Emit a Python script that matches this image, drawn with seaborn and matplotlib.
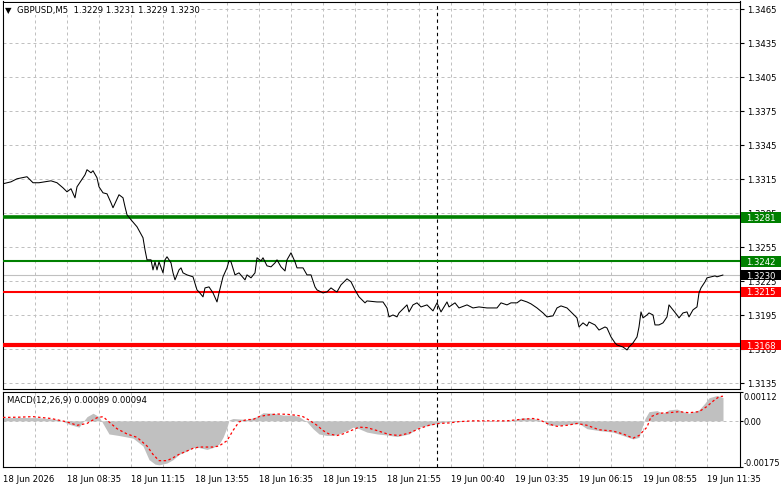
import matplotlib
matplotlib.use("Agg")
import matplotlib.pyplot as plt
import matplotlib.transforms as mtransforms
from matplotlib.patches import Rectangle
import seaborn as sns

# GBPUSD M5 closes, bar index counted from the left edge
price_idx = [0, 4, 7, 12, 15, 18, 24, 27, 30, 32, 34, 36, 37, 40, 41, 42, 44, 45, 47, 48,
             50, 52, 54, 55, 58, 60, 61, 62, 64, 67, 70, 71, 72, 74, 75, 76, 77, 78, 80, 81,
             82, 84, 85, 86, 88, 89, 90, 92, 95, 97, 98, 100, 101, 103, 105, 107, 108, 110, 112, 113,
             114, 116, 118, 121, 122, 124, 126, 127, 129, 130, 132, 134, 136, 137, 139, 141, 142, 144, 146, 147,
             150, 152, 154, 156, 157, 160, 162, 164, 166, 167, 169, 172, 174, 176, 178, 181, 182, 187, 190, 192,
             193, 195, 197, 198, 202, 203, 205, 207, 209, 212, 215, 217, 219, 222, 223, 226, 228, 232, 235, 238,
             242, 245, 247, 249, 252, 254, 257, 259, 262, 264, 267, 270, 272, 275, 277, 279, 282, 284, 287, 288,
             290, 292, 293, 296, 298, 301, 302, 304, 306, 307, 310, 312, 313, 315, 317, 318, 319, 320, 322, 323,
             325, 326, 328, 330, 332, 333, 335, 337, 338, 340, 342, 343, 345, 347, 348, 349, 351, 352, 354, 356,
             357, 360]
price_close = [1.33106, 1.33123, 1.33150, 1.33168, 1.33115, 1.33115, 1.33132, 1.33115, 1.33070, 1.33035,
               1.33062, 1.32982, 1.33079, 1.33159, 1.33185, 1.33230, 1.33203, 1.33221, 1.33159, 1.33079,
               1.33026, 1.33017, 1.32938, 1.32894, 1.33009, 1.32982, 1.32903, 1.32832, 1.32788, 1.32726,
               1.32629, 1.32522, 1.32434, 1.32434, 1.32345, 1.32416, 1.32345, 1.32416, 1.32319, 1.32434,
               1.32461, 1.32407, 1.32319, 1.32257, 1.32345, 1.32363, 1.32319, 1.32301, 1.32284, 1.32168,
               1.32151, 1.32107, 1.32186, 1.32195, 1.32142, 1.32062, 1.32142, 1.32284, 1.32363, 1.32425,
               1.32416, 1.32301, 1.32319, 1.32257, 1.32301, 1.32275, 1.32319, 1.32452, 1.32425, 1.32452,
               1.32381, 1.32372, 1.32407, 1.32434, 1.32372, 1.32336, 1.32434, 1.32496, 1.32416, 1.32363,
               1.32363, 1.32301, 1.32301, 1.32195, 1.32168, 1.32142, 1.32151, 1.32186, 1.32160, 1.32151,
               1.32213, 1.32266, 1.32240, 1.32168, 1.32107, 1.32054, 1.32071, 1.32062, 1.32062, 1.32009,
               1.31930, 1.31947, 1.31930, 1.31965, 1.32036, 1.31974, 1.32036, 1.32054, 1.32018, 1.32036,
               1.31983, 1.32054, 1.31974, 1.32062, 1.32018, 1.32054, 1.32009, 1.32036, 1.32009, 1.32018,
               1.32009, 1.32009, 1.32009, 1.32054, 1.32036, 1.32054, 1.32054, 1.32080, 1.32062, 1.32045,
               1.32009, 1.31965, 1.31930, 1.31939, 1.32009, 1.32027, 1.32009, 1.31974, 1.31921, 1.31841,
               1.31877, 1.31850, 1.31885, 1.31859, 1.31814, 1.31841, 1.31832, 1.31753, 1.31700, 1.31682,
               1.31664, 1.31638, 1.31664, 1.31700, 1.31753, 1.31841, 1.31974, 1.31921, 1.31947, 1.31965,
               1.31947, 1.31859, 1.31859, 1.31877, 1.31930, 1.32036, 1.31992, 1.31947, 1.31921, 1.31965,
               1.31974, 1.31930, 1.31992, 1.32018, 1.32142, 1.32186, 1.32240, 1.32275, 1.32284, 1.32292,
               1.32284, 1.32300]

# MACD(12,26,9): main line drawn as histogram, signal as dotted line
hist_idx = [0, 8, 18, 28, 33, 38, 42, 45, 48, 53, 58, 65, 70, 73, 76, 78, 82, 85, 88, 92,
            95, 98, 102, 105, 108, 110, 112, 113, 115, 122, 127, 130, 135, 140, 145, 148, 152, 155, 158, 162,
            165, 168, 172, 175, 178, 182, 187, 192, 197, 203, 208, 213, 218, 223, 230, 238, 247, 255, 260, 265,
            270, 273, 278, 283, 288, 292, 298, 305, 310, 315, 318, 319, 321, 323, 327, 330, 333, 337, 340, 343,
            348, 351, 353, 357, 360]
macd_main = [0.00012, 0.00013, 0.00012, 0.00005, -0.00013, -0.00024, 0.00016, 0.00029, 0.00016, -0.00050,
             -0.00056, -0.00066, -0.00096, -0.00148, -0.00165, -0.00168, -0.00161, -0.00148, -0.00128, -0.00115,
             -0.00102, -0.00102, -0.00109, -0.00102, -0.00089, -0.00063, -0.00024, 0.00003, 0.00009, 0.00005,
             0.00016, 0.00031, 0.00029, 0.00022, 0.00022, 0.00016, -0.00004, -0.00030, -0.00050, -0.00056,
             -0.00056, -0.00050, -0.00037, -0.00024, -0.00030, -0.00043, -0.00050, -0.00054, -0.00060, -0.00050,
             -0.00024, -0.00017, -0.00008, -0.00003, 0.0, 0.0, 0.0, 0.00003, 0.00012, 0.00009,
             0.0, -0.00017, -0.00017, -0.00013, -0.00010, -0.00030, -0.00037, -0.00043, -0.00056, -0.00069,
             -0.00063, -0.00037, 0.00009, 0.00035, 0.00039, 0.00029, 0.00042, 0.00045, 0.00035, 0.00029,
             0.00042, 0.00068, 0.00088, 0.00097, 0.00089]
sig_idx = [0, 8, 15, 24, 32, 37, 42, 47, 50, 53, 57, 62, 67, 72, 75, 78, 82, 85, 88, 92,
           95, 98, 105, 108, 112, 115, 118, 122, 125, 128, 132, 137, 142, 147, 150, 153, 157, 160, 163, 167,
           170, 175, 178, 182, 187, 193, 198, 203, 208, 213, 218, 223, 228, 235, 243, 252, 258, 265, 268, 272,
           277, 282, 287, 292, 298, 305, 310, 315, 318, 322, 324, 328, 333, 338, 343, 348, 352, 355, 358, 360]
macd_signal = [0.00013, 0.00014, 0.00016, 0.00009, -0.00004, -0.00017, -0.00010, 0.00012, 0.00016, -0.00004,
               -0.00030, -0.00050, -0.00063, -0.00096, -0.00128, -0.00152, -0.00152, -0.00141, -0.00128, -0.00115,
               -0.00105, -0.00100, -0.00100, -0.00096, -0.00076, -0.00037, -0.00004, 0.00005, 0.00005, 0.00016,
               0.00022, 0.00026, 0.00025, 0.00021, 0.00016, 0.00003, -0.00017, -0.00037, -0.00050, -0.00056,
               -0.00050, -0.00034, -0.00024, -0.00026, -0.00037, -0.00052, -0.00056, -0.00047, -0.00030, -0.00017,
               -0.00010, -0.00008, -0.00003, 0.0, 0.0, 0.0, 0.00005, 0.00009, 0.00005, -0.00010,
               -0.00021, -0.00017, -0.00010, -0.00017, -0.00034, -0.00039, -0.00050, -0.00066, -0.00056, -0.00024,
               0.00016, 0.00029, 0.00031, 0.00035, 0.00031, 0.00035, 0.00055, 0.00075, 0.00092, 0.00094]

levels = [1.3281, 1.3242, 1.3215, 1.3168]
level_colors = ["#008000", "#008000", "#ff0000", "#ff0000"]
level_widths = [2.6, 1.5, 1.5, 3.0]
bid = 1.3230

price_ticks = [1.3135, 1.3165, 1.3195, 1.3225, 1.3255, 1.3285, 1.3315, 1.3345, 1.3375, 1.3405, 1.3435, 1.3465]
macd_ticks = [-0.00175, 0.0, 0.00112]
macd_tick_labels = ["-0.00175", "0.00", "0.00112"]
time_pos = [0, 32, 64, 96, 128, 160, 192, 224, 256, 288, 320, 352]
time_labels = ["18 Jun 2026", "18 Jun 08:35", "18 Jun 11:15", "18 Jun 13:55", "18 Jun 16:35",
               "18 Jun 19:15", "18 Jun 21:55", "19 Jun 00:40", "19 Jun 03:35", "19 Jun 06:15",
               "19 Jun 08:55", "19 Jun 11:35"]
day_sep = 217

sns.set_theme(style="white")
plt.rcParams["font.family"] = ["DejaVu Sans"]
FS = 6.1
GRID = dict(color="#c0c0c0", linestyle=(0, (3, 3)), linewidth=0.72)

W, H = 781, 489
fig = plt.figure(figsize=(W / 100, H / 100), dpi=100)
fig.patch.set_facecolor("white")


def box(l, t, r, b):
    return [l / W, 1 - b / H, (r - l) / W, (b - t) / H]


ax = fig.add_axes(box(3, 2.5, 740, 390))
ax2 = fig.add_axes(box(3, 392.5, 740, 467.7))
xlim = (0, 368.5)
vgrid = list(range(16, 353, 16))

# ---- price panel
ax.set_xlim(*xlim)
ax.set_ylim(1.31293, 1.34716)
ax.set_xticks(vgrid)
ax.tick_params(axis="x", length=0, labelbottom=False)
ax.yaxis.tick_right()
ax.set_yticks(price_ticks)
ax.set_yticklabels([f"{t:.4f}" for t in price_ticks])
ax.tick_params(axis="y", length=3, width=0.8, pad=2, labelsize=FS, colors="black")
ax.grid(True, **GRID)

ax.axhline(bid, color="#c0c0c0", lw=0.8, zorder=2)
for lev, c, w in zip(levels, level_colors, level_widths):
    ax.axhline(lev, color=c, lw=w, zorder=3)
ax.axvline(day_sep, color="black", lw=0.8, linestyle=(0, (3, 3)), zorder=2)
sns.lineplot(x=price_idx, y=price_close, ax=ax, color="black", linewidth=0.75, sort=False, zorder=4)

# price tags on the scale (they sit on top of the plain tick labels, as in the terminal)
trans = mtransforms.blended_transform_factory(ax.transAxes, ax.transData)
ylo, yhi = ax.get_ylim()
tag_h = 10.5 * (yhi - ylo) / 387.5
tag_w = 40 / 737
tags = list(zip(levels, level_colors)) + [(bid, "#000000")]
for lev, c in tags:
    ax.add_patch(Rectangle((1.0015, lev - tag_h / 2), tag_w, tag_h, transform=trans,
                           facecolor=c, edgecolor="none", clip_on=False, zorder=6))
    ax.text(1.0 + 6 / 737, lev, f"{lev:.4f}", transform=trans, color="white", fontsize=FS,
            va="center", ha="left", clip_on=False, zorder=7)

for s in ax.spines.values():
    s.set_color("black")
    s.set_linewidth(0.8)

# ---- MACD panel
ax2.set_xlim(*xlim)
ax2.set_ylim(-0.00175, 0.00112)
ax2.fill_between(hist_idx, 0, macd_main, color="#c0c0c0", linewidth=0, zorder=2)
sns.lineplot(x=sig_idx, y=macd_signal, ax=ax2, color="#ff0000", linewidth=0.9, sort=False, zorder=3)
ax2.lines[-1].set_dashes([2, 2])
ax2.axvline(day_sep, color="black", lw=0.8, linestyle=(0, (3, 3)), zorder=2)

ax2.set_xticks(time_pos)
ax2.set_xticklabels(time_labels, ha="left")
ax2.set_xticks(vgrid, minor=True)
ax2.tick_params(axis="x", which="major", length=3, width=0.8, pad=2, labelsize=FS, colors="black")
ax2.tick_params(axis="x", which="minor", length=0)
ax2.yaxis.tick_right()
ax2.set_yticks(macd_ticks)
ax2.set_yticklabels(macd_tick_labels)
ax2.tick_params(axis="y", length=2, width=0.8, pad=0.6, labelsize=FS * 0.97, colors="black")
yl = ax2.get_yticklabels()
yl[0].set_va("bottom")
yl[2].set_va("top")
ax2.grid(True, which="both", axis="x", **GRID)
ax2.grid(True, which="major", axis="y", **GRID)
for s in ax2.spines.values():
    s.set_color("black")
    s.set_linewidth(0.8)

# ---- captions
fig.text(5 / W, 1 - 10 / H, "\u25bc  GBPUSD,M5  1.3229 1.3231 1.3229 1.3230", fontsize=FS,
         va="center", ha="left", color="black",
         bbox=dict(facecolor="white", edgecolor="none", pad=1))
fig.text(7 / W, 1 - 401 / H, "MACD(12,26,9) 0.00089 0.00094", fontsize=FS,
         va="center", ha="left", color="black")

fig.savefig("out.png", dpi=100, facecolor="white")
